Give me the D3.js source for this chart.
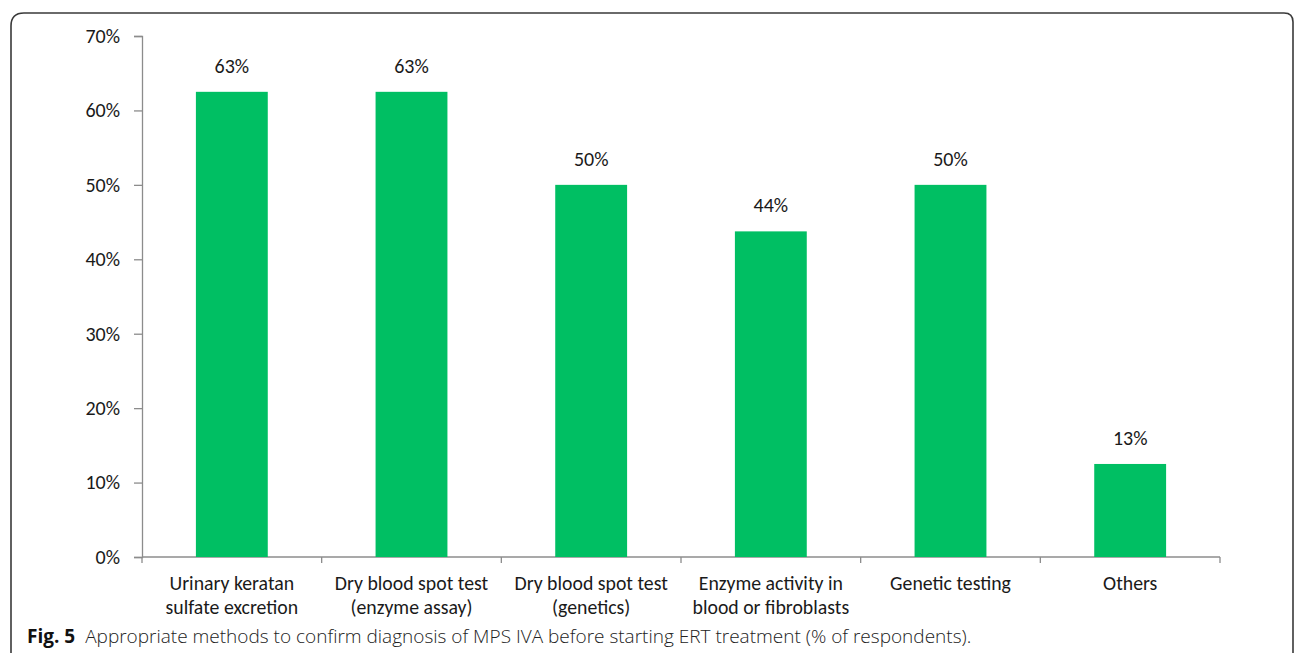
<!DOCTYPE html>
<html>
<head>
<meta charset="utf-8">
<script src="https://cdn.jsdelivr.net/npm/d3@7"></script>
<style>
  html, body { margin: 0; padding: 0; background: #fff; }
  svg { display: block; }
  .tick text, .val, .cat { font-family: Carlito, Calibri, Lato, sans-serif; fill: #1a1a1a; }
  .cap { font-family: "Open Sans", "Noto Sans", sans-serif; fill: #222; }
</style>
</head>
<body>
<svg id="chart" width="1295" height="653"></svg>
<script>
// Share of respondents choosing each confirmation method (n = 16)
const categories = [
  ["Urinary keratan", "sulfate excretion"],
  ["Dry blood spot test", "(enzyme assay)"],
  ["Dry blood spot test", "(genetics)"],
  ["Enzyme activity in", "blood or fibroblasts"],
  ["Genetic testing"],
  ["Others"]
];
const values = [0.625, 0.625, 0.5, 0.4375, 0.5, 0.125];
const yTicks = [0, 0.1, 0.2, 0.3, 0.4, 0.5, 0.6, 0.7];
const caption = "Appropriate methods to confirm diagnosis of MPS IVA before starting ERT treatment (% of respondents).";

const svg = d3.select("#chart");
const W = 1295, H = 653;
const plot = { left: 142, right: 1220, top: 36, bottom: 557 };

// Rounded panel frame (open at the bottom)
svg.append("path")
  .attr("d", `M11,${H + 5} L11,26 Q11,13 24,13 L1284,13 Q1293,13 1293,22 L1293,${H + 5}`)
  .attr("fill", "none")
  .attr("stroke", "#3a3a3a")
  .attr("stroke-width", 1.6);

const keys = categories.map((c, i) => i);
const x = d3.scaleBand().domain(keys).range([plot.left, plot.right]).paddingInner(0.6).paddingOuter(0.3);
const xb = d3.scaleBand().domain(keys).range([plot.left, plot.right]);
const y = d3.scaleLinear().domain([0, 0.7]).range([plot.bottom, plot.top]);

const pct = d3.format(".0%");

// Y axis
const yAxis = svg.append("g")
  .attr("transform", `translate(${plot.left},0)`)
  .call(d3.axisLeft(y).tickValues(yTicks).tickFormat(pct).tickSize(8).tickPadding(14));
yAxis.select(".domain").attr("stroke", "#8c8c8c").attr("stroke-width", 1.3);
yAxis.selectAll(".tick line").attr("stroke", "#8c8c8c").attr("stroke-width", 1.3);
yAxis.selectAll(".tick text").attr("font-size", 20).attr("fill", "#1a1a1a");

// X axis baseline with category dividers
const xg = svg.append("g");
xg.append("line")
  .attr("x1", plot.left).attr("x2", plot.right)
  .attr("y1", plot.bottom).attr("y2", plot.bottom)
  .attr("stroke", "#8c8c8c").attr("stroke-width", 1.3);
const edges = keys.map(k => xb(k)).concat([plot.right]);
xg.selectAll("line.div").data(edges).join("line")
  .attr("class", "div")
  .attr("x1", d => d).attr("x2", d => d)
  .attr("y1", plot.bottom).attr("y2", plot.bottom + 6)
  .attr("stroke", "#8c8c8c").attr("stroke-width", 1.3);

// Bars
svg.append("g").selectAll("rect").data(values).join("rect")
  .attr("x", (d, i) => x(i))
  .attr("width", x.bandwidth())
  .attr("y", d => y(d))
  .attr("height", d => y(0) - y(d))
  .attr("fill", "#00bf63");

// Value labels
svg.append("g").selectAll("text").data(values).join("text")
  .attr("class", "val")
  .attr("x", (d, i) => x(i) + x.bandwidth() / 2)
  .attr("y", d => y(d) - 19)
  .attr("text-anchor", "middle")
  .attr("font-size", 20)
  .text(d => pct(d));

// Category labels, one text element per line
const catGroups = svg.append("g").selectAll("g").data(categories).join("g")
  .attr("transform", (d, i) => `translate(${xb(i) + xb.bandwidth() / 2},0)`);
catGroups.selectAll("text").data(d => d).join("text")
  .attr("class", "cat")
  .attr("x", 0)
  .attr("y", (d, i) => 589.5 + i * 24)
  .attr("text-anchor", "middle")
  .attr("font-size", 19.8)
  .text(d => d);

// Figure caption
const cap = svg.append("text").attr("class", "cap").attr("x", 27).attr("y", 643).attr("font-size", 19);
cap.append("tspan").attr("font-weight", "bold").attr("fill", "#111").text("Fig. 5");
cap.append("tspan").attr("dx", 10).attr("font-weight", 300).text(caption);
</script>
</body>
</html>
